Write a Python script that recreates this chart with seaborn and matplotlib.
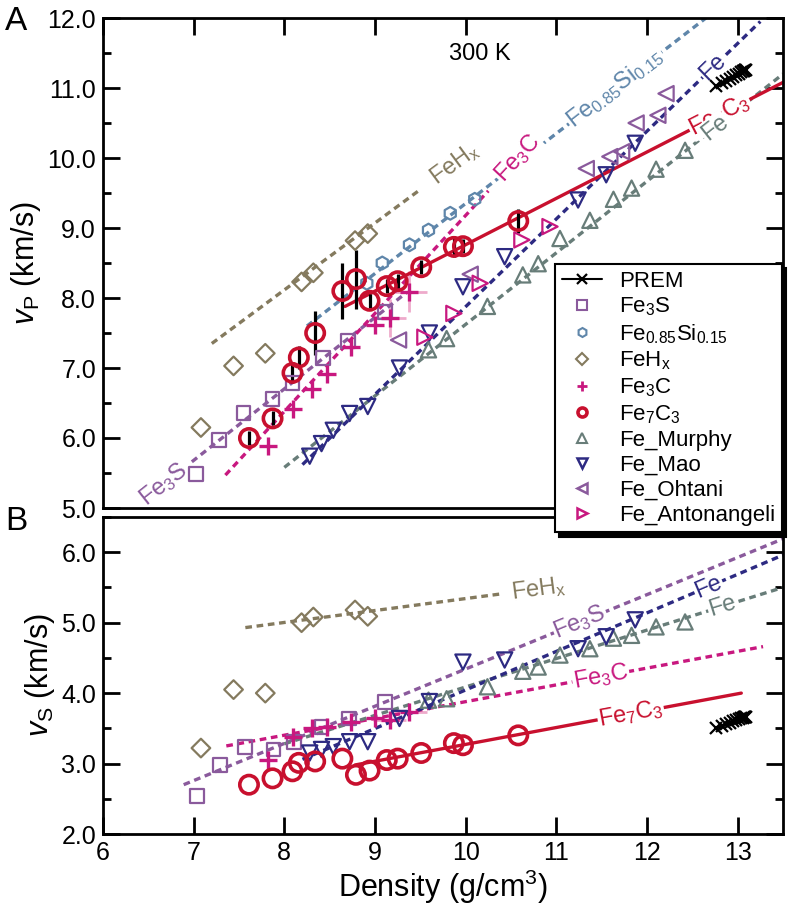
import numpy as np
import matplotlib
matplotlib.use("Agg")
import matplotlib.pyplot as plt
from matplotlib.lines import Line2D
from matplotlib.ticker import MultipleLocator, FormatStrFormatter
import seaborn as sns

# === Data ===
# PREM inner core
prem_rho = [12.7636, 12.8250, 12.8708, 12.9121, 12.9491, 12.9818, 13.0101,
            13.0341, 13.0537, 13.0689, 13.0798, 13.0863, 13.0885]
prem_vp = [11.0283, 11.0725, 11.1054, 11.1352, 11.1619, 11.1854, 11.2058,
           11.2230, 11.2371, 11.2481, 11.2559, 11.2606, 11.2622]
prem_vs = [3.5043, 3.5352, 3.5582, 3.5790, 3.5977, 3.6141, 3.6284,
           3.6404, 3.6503, 3.6579, 3.6634, 3.6667, 3.6678]

fe3s_rho_p = [7.03, 7.28, 7.55, 7.87, 8.09, 8.43, 8.70, 9.11]
fe3s_vp = [5.49, 5.97, 6.36, 6.56, 6.79, 7.14, 7.38, 7.80]
fe3s_rho_s = [7.04, 7.29, 7.57, 7.88, 8.11, 8.41, 8.71, 9.11]
fe3s_vs = [2.54, 2.98, 3.23, 3.20, 3.31, 3.52, 3.64, 3.88]

fesi_rho = [8.91, 9.08, 9.38, 9.59, 9.83, 10.10]
fesi_vp = [8.21, 8.50, 8.76, 8.97, 9.21, 9.41]

fehx_rho = [7.08, 7.44, 7.79, 8.19, 8.32, 8.78, 8.92]
fehx_vp = [6.15, 7.03, 7.21, 8.23, 8.36, 8.82, 8.92]
fehx_vs = [3.22, 4.05, 4.00, 5.00, 5.08, 5.18, 5.09]

fe3c_rho = [7.82, 8.10, 8.31, 8.47, 8.74, 9.00, 9.16, 9.38]
fe3c_vp = [5.88, 6.42, 6.70, 6.92, 7.30, 7.61, 7.71, 8.09]
fe3c_vs = [3.05, 3.38, 3.50, 3.52, 3.59, 3.64, 3.62, 3.73]
# two points carry large (light) error crosses
fe3c_err_rho = [9.16, 9.38]
fe3c_err_vp = [7.71, 8.09]
fe3c_err_vs = [3.62, 3.73]
fe3c_xerr = [0.18, 0.19]
fe3c_vp_err = [0.27, 0.29]
fe3c_vs_err = [0.08, 0.08]

fe7c3_rho = [7.61, 7.87, 8.09, 8.16, 8.34, 8.64, 8.79, 8.94, 9.13, 9.25,
             9.51, 9.87, 9.97, 10.58]
fe7c3_vp = [6.00, 6.28, 6.93, 7.15, 7.50, 8.10, 8.27, 7.96, 8.17, 8.24,
            8.44, 8.73, 8.74, 9.10]
fe7c3_vp_err = [0.10, 0.10, 0.15, 0.17, 0.32, 0.40, 0.42, 0.10, 0.10, 0.10,
                0.10, 0.15, 0.10, 0.17]
fe7c3_vs = [2.70, 2.79, 2.89, 3.01, 3.03, 3.07, 2.84, 2.90, 3.05, 3.07,
            3.15, 3.29, 3.26, 3.40]

murphy_rho = [9.59, 9.79, 10.24, 10.63, 10.80, 11.04, 11.37, 11.63, 11.83, 12.10, 12.42]
murphy_vp = [7.26, 7.42, 7.88, 8.33, 8.49, 8.85, 9.11, 9.41, 9.57, 9.84, 10.11]
murphy_vs = [3.90, 3.92, 4.09, 4.31, 4.37, 4.54, 4.63, 4.78, 4.82, 4.94, 5.01]

mao_rho = [8.28, 8.41, 8.54, 8.72, 8.92, 9.27, 9.60, 9.97, 10.43, 11.24, 11.55, 11.87]
mao_vp = [5.74, 5.92, 6.11, 6.35, 6.45, 7.00, 7.50, 8.16, 8.59, 9.40, 9.76, 10.21]
mao_vs = [3.15, 3.20, 3.24, 3.31, 3.31, 3.64, 3.88, 4.44, 4.47, 4.63, 4.80, 5.04]

ohtani_rho = [9.26, 10.05, 11.33, 11.59, 11.72, 11.88, 12.12, 12.21]
ohtani_vp = [7.40, 8.34, 9.85, 10.02, 10.09, 10.50, 10.61, 10.92]

anto_rho = [9.55, 9.87, 10.16, 10.62, 10.93]
anto_vp = [7.44, 7.78, 8.21, 8.83, 9.02]

# linear fits (end points as drawn)
fehx_fit_p = ([7.20, 9.50], [7.35, 9.55])
fesi_fit_p = ([8.25, 12.70], [7.60, 12.05])
fe3s_fit_p = ([6.98, 9.35], [5.66, 8.08])
fe3c_fit_p = ([7.35, 10.25], [5.47, 9.53])
fe7c3_fit_p = ([8.67, 13.50], [7.88, 11.08])
murphy_fit_p = ([8.00, 13.50], [5.58, 11.20])
mao_fit_p = ([8.20, 13.25], [5.62, 11.95])

fehx_fit_s = ([7.57, 10.40], [4.93, 5.41])
fe3s_fit_s = ([6.89, 13.50], [2.70, 6.19])
fe3c_fit_s = ([7.36, 13.28], [3.25, 4.66])
fe7c3_fit_s = ([8.78, 13.04], [2.98, 4.00])
murphy_fit_s = ([8.00, 13.50], [3.28, 5.50])
mao_fit_s = ([8.20, 13.50], [3.06, 5.96])

# === Colours ===
C_FE3S = "#8a5a9c"
C_FESI = "#5f86aa"
C_FEHX = "#847a5e"
C_FE3C = "#c8187f"
C_FE7C3 = "#c8102e"
C_MURPHY = "#687d79"
C_MAO = "#2d2a82"
C_OHTANI = "#8a5a9c"
C_ANTO = "#c8187f"

sns.set_theme(style="ticks")
plt.rcParams["font.family"] = ["Liberation Sans", "DejaVu Sans"]
plt.rcParams["mathtext.fontset"] = "custom"
plt.rcParams["mathtext.rm"] = "Liberation Sans"
plt.rcParams["mathtext.it"] = "Liberation Sans:italic"
plt.rcParams["mathtext.bf"] = "Liberation Sans:bold"
for key in ("text.color", "axes.labelcolor", "xtick.color", "ytick.color",
            "axes.edgecolor"):
    plt.rcParams[key] = "black"

W, H = 793, 910
fig = plt.figure(figsize=(W / 100, H / 100), dpi=100)
ax1 = fig.add_axes([103 / W, 1 - 508 / H, 680 / W, 490 / H])
ax2 = fig.add_axes([103 / W, 1 - 834 / H, 680 / W, 317 / H])

DASH = (0, (2.0, 1.4))


def fit_line(ax, fit, color, solid=False):
    sns.lineplot(x=fit[0], y=fit[1], ax=ax, color=color, lw=2.4,
                 linestyle="-" if solid else DASH, zorder=2)


def points(ax, x, y, marker, color, s=110, lw=1.6):
    if marker in ("+", "x"):
        sns.scatterplot(x=x, y=y, ax=ax, marker=marker, s=s, color=color,
                        linewidth=lw, zorder=3, legend=False)
    else:
        sns.scatterplot(x=x, y=y, ax=ax, marker=marker, s=s, color=color,
                        facecolor="none", edgecolor=color, linewidth=lw,
                        zorder=3, legend=False)


def line_label(ax, fit, x, text, color, size=17):
    (x0, x1), (y0, y1) = fit
    slope = (y1 - y0) / (x1 - x0)
    y = y0 + (x - x0) * slope
    ang = ax.transData.transform_angles(np.array([np.degrees(np.arctan(slope))]),
                                        np.array([[x, y]]))[0]
    ax.text(x, y, text, color=color, fontsize=size, rotation=ang,
            rotation_mode="anchor", ha="center", va="center", zorder=2.5,
            bbox=dict(fc="white", ec="none", pad=0.6))


for ax, ylim in ((ax1, (5.0, 12.0)), (ax2, (2.0, 6.5))):
    ax.set_xlim(6, 13.5)
    ax.set_ylim(*ylim)
    ax.xaxis.set_major_locator(MultipleLocator(1))
    ax.yaxis.set_major_locator(MultipleLocator(1))
    ax.yaxis.set_minor_locator(MultipleLocator(0.5))
    ax.yaxis.set_major_formatter(FormatStrFormatter("%.1f"))
    for sp in ax.spines.values():
        sp.set_linewidth(2)
        sp.set_visible(True)
    ax.tick_params(which="both", direction="in", width=2, labelsize=18,
                   left=True, right=True, pad=5)
    ax.tick_params(which="major", length=12)
    ax.tick_params(which="minor", length=6)

ax1.tick_params(axis="x", top=True, bottom=False, labelbottom=False)
ax2.tick_params(axis="x", top=False, bottom=True)

# ---- top panel: vP ----
fit_line(ax1, fehx_fit_p, C_FEHX)
fit_line(ax1, fesi_fit_p, C_FESI)
fit_line(ax1, fe3s_fit_p, C_FE3S)
fit_line(ax1, fe3c_fit_p, C_FE3C)
fit_line(ax1, murphy_fit_p, C_MURPHY)
fit_line(ax1, mao_fit_p, C_MAO)
fit_line(ax1, fe7c3_fit_p, C_FE7C3, solid=True)

ax1.errorbar(fe3c_err_rho, fe3c_err_vp, xerr=fe3c_xerr, yerr=fe3c_vp_err,
             fmt="none", ecolor="#eeaacb", elinewidth=2, zorder=1.5)
ax1.errorbar(fe7c3_rho, fe7c3_vp, yerr=fe7c3_vp_err, fmt="none",
             ecolor="black", elinewidth=2.3, zorder=2.8)

points(ax1, fe3s_rho_p, fe3s_vp, "s", C_FE3S, s=100)
points(ax1, fesi_rho, fesi_vp, "h", C_FESI, s=85)
points(ax1, fehx_rho, fehx_vp, "D", C_FEHX, s=90)
points(ax1, fe3c_rho, fe3c_vp, "+", C_FE3C, s=150, lw=2.4)
points(ax1, murphy_rho, murphy_vp, "^", C_MURPHY, s=120)
points(ax1, mao_rho, mao_vp, "v", C_MAO, s=120)
points(ax1, ohtani_rho, ohtani_vp, "<", C_OHTANI, s=120)
points(ax1, anto_rho, anto_vp, ">", C_ANTO, s=120)
points(ax1, fe7c3_rho, fe7c3_vp, "o", C_FE7C3, s=175, lw=2.6)
ax1.plot(prem_rho, prem_vp, color="black", lw=2, marker="x", ms=8, mew=1.6, zorder=4)

line_label(ax1, fehx_fit_p, 9.88, "FeH$_\\mathrm{x}$", C_FEHX)
line_label(ax1, fesi_fit_p, 11.65, "Fe$_{0.85}$Si$_{0.15}$", C_FESI)
line_label(ax1, fe3s_fit_p, 6.67, "Fe$_3$S", C_FE3S)
line_label(ax1, fe3c_fit_p, 10.58, "Fe$_3$C", C_FE3C)
line_label(ax1, fe7c3_fit_p, 12.80, "Fe$_7$C$_3$", C_FE7C3)
line_label(ax1, murphy_fit_p, 12.75, "Fe", C_MURPHY)
line_label(ax1, mao_fit_p, 12.73, "Fe", C_MAO)
ax1.text(10.16, 11.49, "300 K", fontsize=17, ha="center", va="center")
ax1.set_ylabel("$v_\\mathrm{P}$ (km/s)", fontsize=22, labelpad=3)

# ---- bottom panel: vS ----
fit_line(ax2, fehx_fit_s, C_FEHX)
fit_line(ax2, fe3s_fit_s, C_FE3S)
fit_line(ax2, fe3c_fit_s, C_FE3C)
fit_line(ax2, murphy_fit_s, C_MURPHY)
fit_line(ax2, mao_fit_s, C_MAO)
fit_line(ax2, fe7c3_fit_s, C_FE7C3, solid=True)

ax2.errorbar(fe3c_err_rho, fe3c_err_vs, xerr=fe3c_xerr, yerr=fe3c_vs_err,
             fmt="none", ecolor="#eeaacb", elinewidth=2, zorder=1.5)

points(ax2, fe3s_rho_s, fe3s_vs, "s", C_FE3S, s=100)
points(ax2, fehx_rho, fehx_vs, "D", C_FEHX, s=90)
points(ax2, fe3c_rho, fe3c_vs, "+", C_FE3C, s=150, lw=2.4)
points(ax2, murphy_rho, murphy_vs, "^", C_MURPHY, s=120)
points(ax2, mao_rho, mao_vs, "v", C_MAO, s=120)
points(ax2, fe7c3_rho, fe7c3_vs, "o", C_FE7C3, s=175, lw=2.6)
ax2.plot(prem_rho, prem_vs, color="black", lw=2, marker="x", ms=8, mew=1.6, zorder=4)

line_label(ax2, fehx_fit_s, 10.80, "FeH$_\\mathrm{x}$", C_FEHX)
line_label(ax2, fe3s_fit_s, 11.26, "Fe$_3$S", C_FE3S)
line_label(ax2, fe3c_fit_s, 11.49, "Fe$_3$C", C_FE3C)
line_label(ax2, fe7c3_fit_s, 11.82, "Fe$_7$C$_3$", C_FE7C3)
line_label(ax2, murphy_fit_s, 12.83, "Fe", C_MURPHY)
line_label(ax2, mao_fit_s, 12.68, "Fe", C_MAO)
ax2.set_ylabel("$v_\\mathrm{S}$ (km/s)", fontsize=22, labelpad=3)
ax2.set_xlabel("Density (g/cm$^3$)", fontsize=22, labelpad=2)

fig.text(16 / W, 1 - 22 / H, "A", fontsize=24, ha="center", va="center")
fig.text(16 / W, 1 - 522 / H, "B", fontsize=24, ha="center", va="center")

# ---- legend ----
leg_labels = ["PREM", "Fe$_3$S", "Fe$_{0.85}$Si$_{0.15}$", "FeH$_\\mathrm{x}$",
              "Fe$_3$C", "Fe$_7$C$_3$", "Fe_Murphy", "Fe_Mao", "Fe_Ohtani",
              "Fe_Antonangeli"]
leg_styles = [("s", C_FE3S, 1.5), ("h", C_FESI, 1.5), ("D", C_FEHX, 1.5),
              ("+", C_FE3C, 2.0), ("o", C_FE7C3, 2.6), ("^", C_MURPHY, 1.5),
              ("v", C_MAO, 1.8), ("<", C_OHTANI, 1.8), (">", C_ANTO, 1.8)]
handles = [Line2D([], [], color="black", lw=1.5, marker="x", ms=7, mew=1.6)]
for m, c, mw in leg_styles:
    handles.append(Line2D([], [], ls="none", marker=m, ms=6.5, mfc="none",
                          mec=c, mew=mw, color=c))
leg = fig.legend(handles, leg_labels, loc="upper left",
                 bbox_to_anchor=(555 / W, 1 - 264 / H), frameon=True,
                 fancybox=False, edgecolor="black", framealpha=1,
                 shadow={"ox": 3, "oy": -3, "facecolor": "black",
                         "edgecolor": "black", "alpha": 1},
                 fontsize=16, labelspacing=0.18, handlelength=1.8,
                 handletextpad=0.8, borderpad=0.3, borderaxespad=0)
leg.get_frame().set_linewidth(1.5)

fig.savefig("out.png", dpi=100, facecolor="white")
